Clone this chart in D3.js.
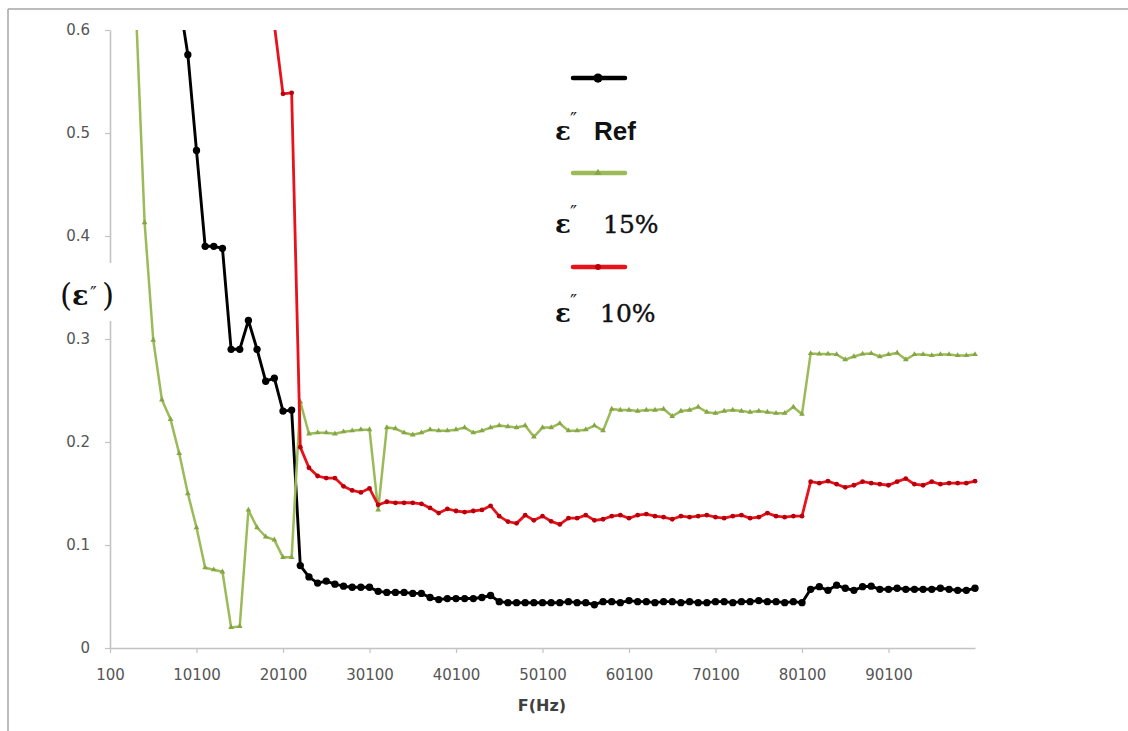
<!DOCTYPE html>
<html>
<head>
<meta charset="utf-8">
<script src="https://cdn.jsdelivr.net/npm/d3@7/dist/d3.min.js"></script>
<style>
  html, body { margin: 0; padding: 0; background: #fff; }
  svg { display: block; }
</style>
</head>
<body>
<svg id="chart" width="1128" height="731"></svg>
<script>
// Frequency sweep (Hz)
const freqHz = [
  100, 1100, 2100, 3100, 4100, 5100, 6100, 7100, 8100, 9100,
  10100, 11100, 12100, 13100, 14100, 15100, 16100, 17100, 18100, 19100,
  20100, 21100, 22100, 23100, 24100, 25100, 26100, 27100, 28100, 29100,
  30100, 31100, 32100, 33100, 34100, 35100, 36100, 37100, 38100, 39100,
  40100, 41100, 42100, 43100, 44100, 45100, 46100, 47100, 48100, 49100,
  50100, 51100, 52100, 53100, 54100, 55100, 56100, 57100, 58100, 59100,
  60100, 61100, 62100, 63100, 64100, 65100, 66100, 67100, 68100, 69100,
  70100, 71100, 72100, 73100, 74100, 75100, 76100, 77100, 78100, 79100,
  80100, 81100, 82100, 83100, 84100, 85100, 86100, 87100, 88100, 89100,
  90100, 91100, 92100, 93100, 94100, 95100, 96100, 97100, 98100, 99100,
  100100
];

// Dielectric loss ε'' of the reference sample
const epsRef = [
  3.2, 2.4, 1.8, 1.4, 1.1, 0.92, 0.8, 0.7, 0.63, 0.576,
  0.483, 0.39, 0.39, 0.388, 0.29, 0.29, 0.318, 0.29, 0.259, 0.262,
  0.23, 0.231, 0.08, 0.069, 0.063, 0.065, 0.062, 0.06, 0.059, 0.059,
  0.059, 0.055, 0.054, 0.054, 0.054, 0.053, 0.053, 0.049, 0.047, 0.048,
  0.048, 0.048, 0.048, 0.049, 0.051, 0.045, 0.044, 0.044, 0.044, 0.044,
  0.044, 0.044, 0.044, 0.045, 0.044, 0.044, 0.042, 0.045, 0.045, 0.044,
  0.046, 0.045, 0.045, 0.044, 0.045, 0.045, 0.044, 0.045, 0.044, 0.044,
  0.045, 0.045, 0.044, 0.045, 0.045, 0.046, 0.045, 0.045, 0.044, 0.045,
  0.044, 0.057, 0.0595, 0.056, 0.061, 0.058, 0.056, 0.0595, 0.06, 0.057,
  0.057, 0.058, 0.057, 0.057, 0.057, 0.057, 0.058, 0.057, 0.056, 0.056,
  0.058
];

// ε'' with 15 % filler
const eps15 = [
  2.1, 1.5, 0.98, 0.62, 0.413, 0.299, 0.241, 0.222, 0.189, 0.15,
  0.117, 0.078, 0.076, 0.074, 0.02, 0.021, 0.134, 0.117, 0.108, 0.105,
  0.088, 0.088, 0.239, 0.208, 0.209, 0.209, 0.208, 0.21, 0.211, 0.212,
  0.212, 0.134, 0.214, 0.213, 0.209, 0.207, 0.209, 0.212, 0.211, 0.211,
  0.212, 0.214, 0.209, 0.211, 0.214, 0.216, 0.215, 0.214, 0.216, 0.205,
  0.214, 0.214, 0.218, 0.211, 0.211, 0.212, 0.216, 0.211, 0.232, 0.231,
  0.231, 0.23, 0.231, 0.231, 0.232, 0.225, 0.23, 0.231, 0.234, 0.229,
  0.228, 0.23, 0.231, 0.23, 0.229, 0.23, 0.229, 0.228, 0.228, 0.234,
  0.227, 0.286, 0.2855, 0.2855, 0.285, 0.28, 0.283, 0.2855, 0.286, 0.283,
  0.285, 0.2865, 0.28, 0.285, 0.285, 0.284, 0.285, 0.285, 0.284, 0.284,
  0.285
];

// ε'' with 10 % filler
const eps10 = [
  4.8, 4.2, 3.7, 3.3, 2.9, 2.6, 2.3, 2.05, 1.83, 1.63,
  1.46, 1.3, 1.16, 1.04, 0.93, 0.84, 0.76, 0.69, 0.64, 0.605,
  0.538, 0.539, 0.195, 0.175, 0.167, 0.165, 0.165, 0.157, 0.153, 0.151,
  0.155, 0.139, 0.142, 0.141, 0.141, 0.141, 0.14, 0.136, 0.131, 0.135,
  0.133, 0.132, 0.133, 0.134, 0.138, 0.128, 0.1227, 0.121, 0.129, 0.124,
  0.128, 0.123, 0.12, 0.126, 0.126, 0.129, 0.124, 0.125, 0.128, 0.129,
  0.126, 0.129, 0.13, 0.128, 0.127, 0.125, 0.128, 0.127, 0.128, 0.129,
  0.127, 0.126, 0.128, 0.129, 0.126, 0.127, 0.131, 0.128, 0.127, 0.128,
  0.128, 0.1615, 0.16, 0.162, 0.159, 0.156, 0.158, 0.1615, 0.16, 0.159,
  0.158, 0.1615, 0.1645, 0.159, 0.158, 0.1615, 0.159, 0.16, 0.16, 0.16,
  0.162
];

const yTicks = [0, 0.1, 0.2, 0.3, 0.4, 0.5, 0.6];
const xTicks = [100, 10100, 20100, 30100, 40100, 50100, 60100, 70100, 80100, 90100];
const seriesLabels = ["Ref", "15%", "10%"];
const xTitle = "F(Hz)";

// ---- layout ----
const svg = d3.select("#chart");
const plot = { left: 110, right: 975, top: 30, bottom: 648 };

const x = d3.scaleLinear().domain([100, 100100]).range([plot.left, plot.right]);
const y = d3.scaleLinear().domain([0, 0.6]).range([plot.bottom, plot.top]);

// outer frame (top and left edges)
svg.append("line").attr("x1", 8).attr("x2", 1128).attr("y1", 9).attr("y2", 9)
  .attr("stroke", "#a6a6a6").attr("stroke-width", 1.5);
svg.append("line").attr("x1", 8).attr("x2", 8).attr("y1", 9).attr("y2", 731)
  .attr("stroke", "#a6a6a6").attr("stroke-width", 1.5);

const axisColor = "#c3c3c3";
const tickFont = "DejaVu Sans, Verdana, sans-serif";
const serif = "DejaVu Serif, serif";

// y axis
const gy = svg.append("g").attr("transform", `translate(${plot.left},0)`)
  .call(d3.axisLeft(y).tickValues(yTicks).tickSize(5).tickSizeOuter(0).tickPadding(15)
    .tickFormat(d => d === 0 ? "0" : d.toFixed(1)));
// x axis
const gx = svg.append("g").attr("transform", `translate(0,${plot.bottom})`)
  .call(d3.axisBottom(x).tickValues(xTicks).tickSize(5).tickSizeOuter(0).tickPadding(16)
    .tickFormat(d3.format("d")));

[gx, gy].forEach(g => {
  g.select(".domain").attr("stroke", axisColor).attr("stroke-width", 1.6);
  g.selectAll(".tick line").attr("stroke", axisColor).attr("stroke-width", 1.2);
  g.selectAll(".tick text").attr("fill", "#555555")
    .style("font-family", tickFont).style("font-size", "15px");
});

// x title
svg.append("text").attr("x", 542).attr("y", 711).attr("text-anchor", "middle")
  .style("font-family", tickFont).style("font-size", "16px").style("font-weight", "bold")
  .attr("fill", "#404040").text(xTitle);

// ---- series ----
svg.append("defs").append("clipPath").attr("id", "plotClip")
  .append("rect").attr("x", plot.left - 10).attr("y", plot.top)
  .attr("width", plot.right - plot.left + 20).attr("height", plot.bottom - plot.top + 10);

const series = [
  { label: seriesLabels[0], values: epsRef, color: "#000000", width: 2.9,
    marker: d3.symbolCircle, mSize: 42, mFill: "#000000" },
  { label: seriesLabels[1], values: eps15, color: "#9bbb59", width: 2.5,
    marker: d3.symbolTriangle, mSize: 14, mFill: "#86a645" },
  { label: seriesLabels[2], values: eps10, color: "#e8121a", width: 2.8,
    marker: d3.symbolCircle, mSize: 18, mFill: "#b8000a" }
];

const line = d3.line().x((d, i) => x(freqHz[i])).y(d => y(d));
const gSeries = svg.append("g").attr("clip-path", "url(#plotClip)");

series.forEach(s => {
  const g = gSeries.append("g");
  g.append("path").datum(s.values).attr("d", line)
    .attr("fill", "none").attr("stroke", s.color).attr("stroke-width", s.width)
    .attr("stroke-linejoin", "round");
  g.selectAll("path.m").data(s.values.map((v, i) => [freqHz[i], v]).filter(p => p[1] <= 0.6))
    .join("path").attr("class", "m")
    .attr("transform", p => `translate(${x(p[0])},${y(p[1])})`)
    .attr("d", d3.symbol().type(s.marker).size(s.mSize))
    .attr("fill", s.mFill);
});

// ---- legend ----
const legendLineY = [78, 173, 267];
const legendTextY = [140, 233, 322];
const legendLabelX = [594, 603, 600];

series.forEach((s, i) => {
  const g = svg.append("g");
  g.append("line").attr("x1", 573).attr("x2", 625)
    .attr("y1", legendLineY[i]).attr("y2", legendLineY[i])
    .attr("stroke", s.color).attr("stroke-width", 4.5).attr("stroke-linecap", "round");
  g.append("path").attr("transform", `translate(598,${legendLineY[i]})`)
    .attr("d", d3.symbol().type(s.marker).size(s.mSize * 1.6)).attr("fill", s.mFill);

  g.append("text").attr("x", 555).attr("y", legendTextY[i])
    .style("font-family", serif).style("font-size", "26px").style("font-weight", "bold")
    .attr("fill", "#111").text("ε");
  g.append("text").attr("x", 570).attr("y", legendTextY[i] - 14)
    .style("font-family", serif).style("font-size", "19px")
    .attr("fill", "#222").text("″");
  const t = g.append("text").attr("x", legendLabelX[i]).attr("y", legendTextY[i])
    .attr("fill", "#111").text(s.label);
  if (i === 0) {
    t.style("font-family", "Liberation Sans, Arial, sans-serif").style("font-size", "26px").style("font-weight", "bold");
  } else {
    t.style("font-family", serif).style("font-size", "25px")
      .attr("stroke", "#111").attr("stroke-width", 0.4);
  }
});

// ---- y title (ε'') with its own white backing over the axis ----
const yt = svg.append("g");
yt.append("rect").attr("x", 56).attr("y", 263).attr("width", 62).attr("height", 58).attr("fill", "#fff");
yt.append("text").attr("x", 60).attr("y", 306)
  .style("font-family", serif).style("font-size", "31px").attr("fill", "#111").text("(");
yt.append("text").attr("x", 72).attr("y", 305)
  .style("font-family", serif).style("font-size", "27px").style("font-weight", "bold")
  .attr("fill", "#111").text("ε");
yt.append("text").attr("x", 90).attr("y", 300)
  .style("font-family", serif).style("font-size", "18px").attr("fill", "#222").text("″");
yt.append("text").attr("x", 102).attr("y", 306)
  .style("font-family", serif).style("font-size", "31px").attr("fill", "#111").text(")");
</script>
</body>
</html>
